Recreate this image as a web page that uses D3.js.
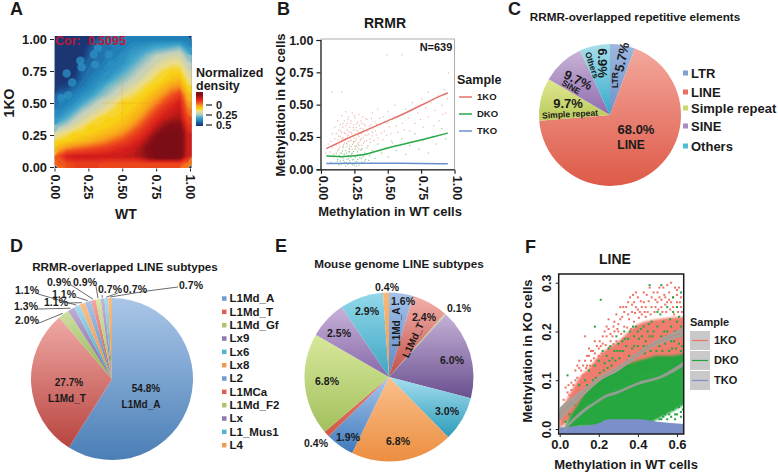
<!DOCTYPE html>
<html><head><meta charset="utf-8">
<script src="https://cdn.jsdelivr.net/npm/d3@7"></script>
<style>html,body{margin:0;padding:0;background:#fff}svg{display:block}text{font-family:"Liberation Sans",Arial,sans-serif;font-weight:700;fill:#1a1a1a}</style>
</head><body><svg id="c" width="778" height="472"></svg>
<script>
// ---------- Panel A data: normalized density levels, rows top (KO=1) to bottom (KO=0), columns WT=0..1
const densityGrid = [
[0,0,0,0,.2,1.2,1.5,1.5,1.5,1.5,1.5,1.5,1.5,1.5,1.5,1.5,1.5],
[0,0,0,0,.8,1.3,1.2,1.5,1.5,1.8,2,2.2,2.5,2.6,2.8,3,2],
[0,0,0,.2,1,1.2,1.4,1.5,1.8,2.2,2.5,3,3.4,3.6,3.8,3.8,3],
[0,0,0,.9,1.2,1.3,1.6,1.8,2,2.5,3,3.4,3.8,4.2,4.5,4.5,3.5],
[0,0,.1,1.1,1.3,1.5,1.8,2,2.5,3,3.4,3.8,4.4,4.8,5,5,4],
[0,0,.4,1.2,1.5,1.8,2,2.6,3,3.4,3.8,4.4,4.8,5,5.3,5.5,4.5],
[.3,.5,1.1,1.4,1.7,2.2,2.8,3.2,3.5,4,4.5,4.9,5.1,5.5,6,6.2,5],
[1.1,1.2,1.5,1.8,2.2,2.8,3.2,3.6,4.2,4.6,4.9,5.2,5.6,6.1,6.8,7.3,5.5],
[1.4,1.5,1.8,2.4,3,3.5,3.9,4.4,5,5,5.2,5.6,6.2,6.9,7.5,8,6],
[1.6,1.9,2.5,3.2,3.6,4,4.5,4.9,5,5.2,5.5,6.1,6.9,7.6,8,8.3,6.5],
[2,2.6,3.3,3.8,4.3,4.8,5,5,5.2,5.5,6,6.8,7.6,8.1,8.4,8.6,7],
[3,3.4,4,4.6,5,5,5.1,5.3,5.5,6,6.7,7.5,8.1,8.8,9.4,9.4,7.5],
[4.2,4.6,5,5,5.1,5.3,5.5,5.8,6.2,6.8,7.4,8,8.9,9.8,10,9.9,8],
[5,5.1,5.3,5.5,5.7,6,6.3,6.7,7.1,7.6,8,8.7,9.8,10,10,10,8],
[5.8,6.3,6.6,6.8,7,7.2,7.4,7.7,7.9,8.1,8.5,9.4,10,10,10,10,8],
[7,8,8.2,8.2,8.2,8.2,8.2,8.2,8.2,8.3,8.6,9.3,9.9,10,10,9.9,8],
[6.8,7,7.2,7.2,7.2,7.2,7,7,7,7,7,7,7,7,7,7,6.5]];
const densityLevels = [0,1,1.6,2.5,3.5,4.5,5,6,7,8,9,10];
const densityColors = ["#1c2f6e","#1d5f9e","#2286bd","#45a8cc","#c3d0bd","#ecdc88","#f8d516","#f8a01c","#ee4a1c","#d8201b","#8e1216","#7a1014"];
const densityBlobs = [[.09,.73],[.19,.83],[.2,.78],[.29,.88],[.32,.93],[.4,.88],[.3,.8],[.13,.66],[.42,.8],[.5,.86],[.05,.54],[.1,.56]];
const corLabel = "Cor:\u00a0\u00a00.5095";
const ticksA = [0,.25,.5,.75,1];
// ---------- Panel B data
const bX1 = [.04,.1,.2,.3,.4,.5,.6,.7,.8,.9,.95], bY1 = [.16,.19,.24,.285,.33,.375,.42,.47,.52,.57,.59];
const bX2 = [.04,.1,.15,.2,.3,.35,.4,.5,.6,.7,.8,.95], bY2 = [.105,.1,.098,.1,.11,.12,.135,.165,.19,.215,.24,.28];
const bX3 = [.04,.3,.6,.95], bY3 = [.045,.047,.047,.043];
const bPts1 = [[.03,.13],[.05,.2],[.06,.14],[.07,.22],[.08,.17],[.08,.28],[.09,.12],[.1,.24],[.1,.33],[.11,.19],[.11,.28],[.12,.15],[.12,.23],[.12,.38],[.13,.31],[.13,.2],[.14,.26],[.14,.13],[.14,.35],[.15,.22],[.15,.29],[.15,.42],[.16,.17],[.16,.25],[.16,.33],[.17,.21],[.17,.38],[.17,.12],[.18,.28],[.18,.24],[.18,.45],[.19,.18],[.19,.31],[.19,.36],[.2,.22],[.2,.27],[.2,.41],[.2,.14],[.21,.25],[.21,.33],[.21,.19],[.22,.29],[.22,.38],[.22,.23],[.23,.16],[.23,.26],[.23,.44],[.24,.31],[.24,.21],[.24,.35],[.25,.28],[.25,.18],[.25,.4],[.26,.24],[.26,.33],[.27,.3],[.27,.2],[.27,.37],[.28,.26],[.28,.16],[.28,.43],[.29,.32],[.29,.23],[.3,.28],[.3,.36],[.3,.19],[.31,.25],[.31,.41],[.32,.3],[.32,.22],[.33,.34],[.34,.27],[.34,.39],[.35,.31],[.36,.24],[.37,.35],[.38,.29],[.38,.44],[.4,.37],[.41,.27],[.42,.47],[.44,.35],[.46,.41],[.47,.3],[.49,.36],[.5,.45],[.52,.28],[.53,.39],[.55,.5],[.56,.34],[.58,.42],[.6,.89],[.62,.31],[.63,.47],[.65,.4],[.68,.52],[.7,.36],[.72,.44],[.75,.55],[.76,.33],[.78,.48],[.8,.41],[.8,.6],[.82,.52],[.85,.46],[.87,.57],[.88,.38],[.9,.5],[.92,.62],[.93,.44],[.94,.55],[.49,.89],[.15,.6],[.08,.6],[.95,.75],
[.113,.205],[.127,.262],[.136,.177],[.142,.301],[.153,.241],[.158,.357],[.164,.193],[.171,.284],[.176,.232],[.183,.342],[.187,.206],[.193,.263],[.197,.392],[.204,.296],[.208,.158],[.214,.224],[.219,.361],[.226,.277],[.231,.198],[.236,.327],[.241,.248],[.246,.419],[.253,.222],[.257,.307],[.263,.356],[.268,.174],[.273,.269],[.278,.213],[.284,.344],[.289,.289],[.294,.378],[.298,.239],[.304,.167],[.308,.315],[.314,.208],[.319,.352],[.326,.268],[.331,.396],[.337,.226],[.342,.301],[.347,.186],[.354,.278],[.359,.337],[.366,.212],[.372,.398],[.379,.263],[.385,.322],[.393,.227],[.402,.302],[.411,.352],[.423,.247],[.434,.398],[.447,.286],[.459,.232],[.472,.372],[.488,.268],[.506,.332],[.524,.226],[.545,.41],[.57,.29],[.605,.36],[.66,.3],[.74,.39],[.84,.34],[.91,.43]];
const bPts2 = [[.07,.06],[.09,.1],[.1,.05],[.11,.13],[.12,.08],[.13,.04],[.13,.16],[.14,.1],[.14,.07],[.15,.13],[.15,.05],[.16,.09],[.16,.18],[.17,.06],[.17,.12],[.18,.03],[.18,.15],[.19,.08],[.19,.2],[.2,.11],[.2,.05],[.21,.14],[.21,.07],[.22,.18],[.22,.1],[.23,.04],[.23,.13],[.24,.08],[.24,.22],[.25,.16],[.25,.06],[.26,.11],[.26,.03],[.27,.14],[.27,.08],[.28,.19],[.28,.05],[.29,.12],[.3,.09],[.3,.16],[.31,.05],[.32,.13],[.33,.08],[.34,.17],[.36,.11],[.38,.15],[.4,.09],[.42,.2],[.45,.13],[.48,.17],[.5,.1],[.53,.21],[.56,.15],[.6,.24],[.63,.12],[.66,.19],[.7,.28],[.73,.16],[.76,.23],[.8,.13],[.83,.26],[.86,.2],[.9,.32],[.93,.24],
[.118,.067],[.132,.112],[.144,.046],[.156,.147],[.163,.074],[.174,.103],[.182,.057],[.187,.128],[.196,.042],[.203,.088],[.207,.167],[.216,.056],[.224,.122],[.232,.078],[.238,.143],[.244,.038],[.252,.097],[.258,.184],[.264,.064],[.272,.118],[.279,.036],[.286,.094],[.293,.153],[.302,.061],[.311,.107],[.322,.068],[.334,.128],[.352,.074],[.37,.133]];
const ticksB = [0,.25,.5,.75,1];
const sampleNames = ["1KO","DKO","TKO"];
// ---------- Panel C data
const cNames = ["LTR","LINE","Simple repeat","SINE","Others"];
const cValues = [5.7,68,9.7,9.7,6.9];
// ---------- Panel D data
const dNames = ["L1Md_A","L1Md_T","L1Md_Gf","Lx9","Lx6","Lx8","L2","L1MCa","L1Md_F2","Lx","L1_Mus1","L4"];
const dValues = [54.8,27.7,2.0,1.3,1.1,1.1,1.1,0.9,0.9,0.7,0.7,0.7];
// ---------- Panel E data
const eValues = [1.6,2.4,0.1,6.0,3.0,6.8,1.9,0.4,6.8,2.5,2.9,0.4];
// ---------- Panel F data
const fCoreX1 = [0,.05,.1,.15,.2,.3,.4,.5,.64], fCoreLo1 = [0,.02,.035,.055,.07,.09,.11,.12,.12], fCoreHi1 = [.035,.07,.105,.125,.15,.18,.215,.225,.23];
const fCoreX2 = [.03,.06,.1,.15,.2,.3,.4,.45,.5,.55,.64], fCoreLo2 = [0,0,.005,.005,.005,.005,.008,.012,.02,.03,.05], fCoreHi2 = [.008,.03,.055,.085,.1,.125,.14,.145,.15,.15,.155];
const fCoreX3 = [0,.1,.2,.25,.4,.5,.64], fCoreHi3 = [.003,.006,.012,.02,.02,.015,.01];
const fLineX1 = [0,.05,.1,.153,.2,.3,.4,.467,.55,.64], fLineY1 = [.03,.05,.068,.086,.102,.124,.153,.171,.186,.2], fLineW1 = [.014,.011,.008,.006,.005,.005,.005,.005,.006,.01];
const fLineX2 = [.025,.058,.128,.18,.23,.3,.4,.52,.58,.64], fLineY2 = [0,.014,.039,.053,.066,.076,.093,.107,.12,.135], fLineW2 = [.005,.004,.004,.003,.003,.003,.003,.003,.004,.005];
const fPts1 = [[.01,.04],[.02,.06],[.03,.05],[.04,.075],[.05,.07],[.06,.08],[.07,.09],[.07,.065],[.08,.12],[.09,.13],[.09,.105],[.1,.14],[.11,.12],[.12,.11],[.13,.14],[.13,.19],[.14,.13],[.15,.15],[.16,.14],[.17,.16],[.18,.18],[.19,.17],[.2,.15],[.19,.14],[.21,.17],[.22,.19],[.23,.2],[.24,.21],[.25,.205],[.26,.18],[.27,.19],[.28,.22],[.29,.18],[.3,.2],[.31,.25],[.32,.23],[.33,.21],[.34,.25],[.35,.26],[.36,.27],[.37,.24],[.38,.26],[.38,.22],[.39,.25],[.4,.27],[.41,.24],[.42,.25],[.43,.26],[.44,.23],[.45,.24],[.46,.29],[.47,.27],[.48,.28],[.49,.25],[.5,.26],[.5,.28],[.51,.27],[.52,.25],[.53,.29],[.54,.27],[.55,.26],[.55,.295],[.56,.28],[.57,.3],[.58,.27],[.59,.29],[.6,.26],[.6,.285],[.61,.29],[.62,.27],[.62,.25],[.35,.235],[.33,.24],[.37,.255],[.4,.245],[.42,.235],[.44,.25],[.47,.25],[.49,.265],[.52,.265],[.54,.255],[.57,.26],[.58,.25],[.6,.275],[.3,.215],[.28,.2],[.26,.195],[.24,.19],[.22,.175],[.2,.165],[.18,.155],[.16,.16],[.14,.15],[.12,.13],[.1,.125],[.08,.1],[.06,.095],[.045,.09],[.03,.085],[.11,.095],[.15,.165],[.17,.13],[.25,.225],[.29,.235],[.31,.225],[.39,.28],[.43,.28],[.51,.29],[.56,.265],
[.215,.155],[.235,.172],[.255,.168],[.275,.174],[.295,.205],[.315,.195],[.325,.185],[.345,.208],[.355,.225],[.365,.205],[.385,.238],[.405,.228],[.415,.262],[.435,.24],[.455,.262],[.465,.235],[.485,.24],[.505,.245],[.525,.24],[.545,.24],[.565,.245],[.585,.235],[.605,.24],[.625,.24],[.615,.26],[.535,.275],[.445,.275],[.375,.275],[.325,.25],[.275,.21],[.205,.18],[.175,.145],[.135,.125],[.095,.08],[.125,.095],[.155,.13]];
const fPts2 = [[.04,.11],[.21,.265],[.18,.21],[.15,.12],[.46,.295],[.52,.295],[.58,.27],[.62,.28],[.6,.25],[.61,.23],[.58,.24],[.55,.25],[.5,.24],[.47,.22],[.45,.2],[.43,.21],[.4,.2],[.38,.19],[.35,.185],[.33,.2],[.3,.175],[.28,.16],[.26,.17],[.24,.15],[.22,.16],[.2,.14],[.18,.13],[.17,.1],[.13,.1],[.1,.09],[.62,.21],[.62,.19],[.6,.22],[.59,.2],[.57,.21],[.57,.18],[.55,.2],[.54,.175],[.53,.22],[.52,.19],[.5,.18],[.5,.21],[.48,.2],[.47,.17],[.46,.19],[.44,.18],[.43,.17],[.42,.19],[.4,.17],[.39,.21],[.37,.165],[.36,.2],[.34,.17],[.32,.18],[.31,.16],[.29,.19],[.27,.145],[.25,.165],[.23,.135],[.48,.015],[.5,.012],[.52,.02],[.53,.025],[.55,.02],[.56,.03],[.57,.025],[.58,.04],[.59,.03],[.6,.03],[.61,.045],[.62,.035],[.63,.04],[.47,.02],[.51,.02],[.54,.03],[.59,.02],[.62,.025],[.05,.03],[.03,.015],[.08,.06],[.62,.16],[.63,.15],
[.61,.175],[.595,.165],[.575,.165],[.56,.16],[.545,.19],[.525,.16],[.51,.17],[.495,.16],[.485,.175],[.465,.16],[.45,.17],[.435,.155],[.415,.16],[.405,.185],[.395,.15],[.38,.17],[.355,.15],[.345,.14],[.325,.16],[.305,.145],[.285,.14],[.265,.13],[.245,.125],[.225,.12],[.205,.115],[.185,.105],[.165,.09],[.14,.09],[.12,.075],[.09,.065],[.075,.05],[.535,.2],[.565,.225],[.585,.18],[.605,.2],[.625,.17],[.515,.235],[.475,.19],[.455,.215],[.415,.205],[.375,.21],[.335,.185],[.295,.16],[.255,.14]];
// Fixed colours / layout
const svg = d3.select("#c");
const defs = svg.append("defs");
function txt(g,s,x,y,size,rot,anchor,fill){
  const t=g.append("text").attr("x",x).attr("y",y).attr("font-size",size).attr("dy",".35em").attr("text-anchor",anchor||"middle").text(s);
  if(rot) t.attr("transform",`rotate(${rot} ${x} ${y})`);
  if(fill) t.style("fill",fill);
  return t;
}
[["A",10,15],["B",277,15],["C",508,15],["D",10,252],["E",275,252],["F",525,253]].forEach(d=>
  svg.append("text").attr("x",d[1]).attr("y",d[2]).attr("font-size",18).text(d[0]));
function styleAxis(a,size,w){a.selectAll("text").attr("font-size",size).style("font-family",'"Liberation Sans"').style("font-weight",700).style("fill","#1a1a1a");
  a.selectAll("line").attr("stroke","#222").attr("stroke-width",w||1);a.select(".domain").attr("stroke","#222").attr("stroke-width",w||1);}

// ===== Panel A =====
(function(){
  const x=d3.scaleLinear([0,1],[54.5,190]), y=d3.scaleLinear([0,1],[167,39]);
  const x0=54.5,x1=191.7,y0=36,y1=168;
  const color=d3.scaleLinear(densityLevels,densityColors).clamp(true);
  const n=densityGrid[0].length,m=densityGrid.length;
  defs.append("clipPath").attr("id","clipA").append("rect").attr("x",x0).attr("y",y0).attr("width",x1-x0).attr("height",y1-y0);
  defs.append("filter").attr("id","blurA").attr("x","-30%").attr("y","-30%").attr("width","160%").attr("height","160%").append("feGaussianBlur").attr("stdDeviation",.6);
  const g=svg.append("g").attr("clip-path","url(#clipA)");
  g.append("rect").attr("x",x0).attr("y",y0).attr("width",x1-x0).attr("height",y1-y0).attr("fill",color(0));
  const thr=d3.range(0,10.01,.2);
  const cs=d3.contours().size([n,m]).thresholds(thr)(densityGrid.flat());
  const tr=d3.geoTransform({point(a,b){this.stream.point(x0+a/n*(x1-x0),y0+b/m*(y1-y0));}});
  const path=d3.geoPath(tr);
  const inner=g.append("g").attr("filter","url(#blurA)");
  inner.selectAll("path").data(cs).join("path").attr("d",path).attr("fill",d=>color(d.value+.1));
  inner.selectAll("circle").data(densityBlobs).join("circle").attr("cx",d=>x(d[0])).attr("cy",d=>y(d[1])).attr("r",4.2).attr("fill","#2c8fc0").attr("opacity",.8);
  g.append("line").attr("x1",x(.5)).attr("x2",x(.5)).attr("y1",y(.72)).attr("y2",y(.24)).attr("stroke","#f39a1e").attr("stroke-width",1).attr("opacity",.3);
  g.append("line").attr("x1",x(.35)).attr("x2",x(.8)).attr("y1",y(.5)).attr("y2",y(.5)).attr("stroke","#f39a1e").attr("stroke-width",1).attr("opacity",.3);
  txt(svg,corLabel,55,41,12.5,0,"start","#b81a38");
  const ax=svg.append("g").attr("transform","translate(0,168.5)").call(d3.axisBottom(x).tickValues(ticksA).tickFormat(d3.format(".2f")).tickSize(3));
  ax.select(".domain").remove(); styleAxis(ax,12.8);
  ax.selectAll("text").attr("transform","rotate(90)").attr("text-anchor","start").attr("x",6).attr("y",0).attr("dy",".35em");
  const ay=svg.append("g").attr("transform","translate(54,0)").call(d3.axisLeft(y).tickValues(ticksA).tickFormat(d3.format(".2f")).tickSize(4));
  ay.select(".domain").remove(); styleAxis(ay,12.8);
  txt(svg,"1KO",9,103,14,-90);
  txt(svg,"WT",126,214,14);
  txt(svg,"Normalized",196,73,12.5,0,"start");
  txt(svg,"density",196,86,12.5,0,"start");
  const grad=defs.append("linearGradient").attr("id","barA").attr("x1",0).attr("x2",0).attr("y1",1).attr("y2",0);
  densityLevels.forEach((l,i)=>grad.append("stop").attr("offset",l/10).attr("stop-color",densityColors[i]));
  svg.append("rect").attr("x",196).attr("y",92).attr("width",7).attr("height",34).attr("fill","url(#barA)");
  [["0",105],["0.25",115],["0.5",125]].forEach(d=>{
    svg.append("line").attr("x1",206).attr("x2",212).attr("y1",d[1]).attr("y2",d[1]).attr("stroke","#222").attr("stroke-width",1.2);
    txt(svg,d[0],216,d[1],11,0,"start");});
})();

// ===== Panel B =====
(function(){
  const x=d3.scaleLinear([0,1],[321,454.5]), y=d3.scaleLinear([0,1],[169.3,40]);
  svg.append("rect").attr("x",321).attr("y",39).attr("width",133.5).attr("height",130.5).attr("fill","none").attr("stroke","#999").attr("stroke-width",.8);
  const dots=(pts,c)=>svg.append("g").selectAll("rect").data(pts).join("rect").attr("x",d=>x(d[0])).attr("y",d=>y(d[1])).attr("width",1.2).attr("height",1.2).attr("fill",c);
  dots(bPts1,"#efb4ac"); dots(bPts2,"#8ecd9c");
  const ln=(X,Y,c)=>svg.append("path").attr("d",d3.line().x((d,i)=>x(X[i])).y((d,i)=>y(Y[i])).curve(d3.curveMonotoneX)(X)).attr("fill","none").attr("stroke",c).attr("stroke-width",1.5);
  ln(bX1,bY1,"#e0746a"); ln(bX2,bY2,"#2aa848"); ln(bX3,bY3,"#6a8fd0");
  const ax=svg.append("g").attr("transform","translate(0,169.8)").call(d3.axisBottom(x).tickValues(ticksB).tickFormat(d3.format(".2f")).tickSize(4));
  styleAxis(ax,12.5,1.2); ax.select(".domain").attr("d","M321,0H454.5");
  ax.selectAll("text").attr("transform","rotate(90)").attr("text-anchor","start").attr("x",6).attr("y",-2).attr("dy",".35em");
  const ay=svg.append("g").attr("transform","translate(320.5,0)").call(d3.axisLeft(y).tickValues(ticksB).tickFormat(d3.format(".2f")).tickSize(4));
  styleAxis(ay,12.5,1.2);
  txt(svg,"RRMR",385,23,14);
  txt(svg,"N=639",436,47,11);
  txt(svg,"Methylation in KO cells",280,105,13,-90);
  txt(svg,"Methylation in WT cells",390,211,13);
  txt(svg,"Sample",457,80,12.5,0,"start");
  sampleNames.forEach((s,i)=>{const yy=97+i*17;
    svg.append("line").attr("x1",459).attr("x2",472).attr("y1",yy).attr("y2",yy).attr("stroke",["#e0746a","#2aa848","#6a8fd0"][i]).attr("stroke-width",1.5);
    txt(svg,s,477,yy,9.5,0,"start");});
})();

// ===== Pies =====
function pie(id,cx,cy,R,values,tops,bottoms){
  const arcs=d3.pie().sort(null)(values);
  const arc=d3.arc().innerRadius(0).outerRadius(R);
  const g=svg.append("g").attr("transform",`translate(${cx},${cy})`);
  arcs.forEach((a,i)=>{
    const gr=defs.append("linearGradient").attr("id",id+i).attr("x1",0).attr("x2",0).attr("y1",0).attr("y2",1);
    gr.append("stop").attr("offset",0).attr("stop-color",tops[i]);
    gr.append("stop").attr("offset",1).attr("stop-color",bottoms[i]);
  });
  g.selectAll("path").data(arcs).join("path").attr("d",arc).attr("fill",(d,i)=>`url(#${id}${i})`);
  return arcs;
}
// Panel C
(function(){
  pie("c",610,115,71,cValues,["#9db8df","#f3a79c","#e0e88e","#c9b4d6","#a8dfec"],["#6f92c8","#de5a48","#b9c95c","#8f6cb0","#2fa9c9"]);
  const T=(s,x,y,f,r)=>txt(svg,s,x,y,f,r);
  T("LTR",615,80,8.5,-90);T("5.7%",622,57,13,-78);T("Others",592,65,8.5,72);T("6.9%",603,63,13,90);
  T("9.7%",578,80,13,25);T("SINE",571,87,8.5,30);T("9.7%",568,103,13,0);T("Simple repeat",570,114,8.5,-3);
  T("68.0%",636,129,13,0);T("LINE",631,145,12,0);
  txt(svg,"RRMR-overlapped repetitive elements",635,17,11.7);
  const ys=[73,92,108,126,146], sw=["#7fa0d4","#ea6f60","#cad96f","#a98cc4","#4fbcd8"];
  cNames.forEach((n,i)=>{svg.append("rect").attr("x",683).attr("y",ys[i]-2.5).attr("width",5).attr("height",5).attr("fill",sw[i]);
    txt(svg,n,691,ys[i],13,0,"start");});
})();
// Panel D
(function(){
  const tops=["#aac6e8","#efa9a5","#cfe0a0","#bfaed6","#a6dcec","#f9c090","#a8c4e8","#f2a6a2","#d6e6a8","#c6b4da","#a6dcec","#f8bc84"];
  const bots=["#4a7fb6","#b8443f","#92b254","#7a5f9e","#3aa0bc","#ec8a3a","#4f85c0","#c85048","#9cbc58","#8568a8","#41a8c4","#ee9040"];
  const R=81,cx=112,cy=379;
  const arcs=pie("d",cx,cy,R,dValues,tops,bots);
  const anc=d3.arc().innerRadius(R+1).outerRadius(R+1);
  const lay=[null,null,[27,320,39,323],[26,306,38,309],[27,290,38,294],[56,302,68,303],[64,294,76,297],[59,282,71,285],[85,282,96,286],[110,289,102,295],[135,289,118,293],[191,285,178,287]];
  lay.forEach((l,i)=>{ if(!l) return;
    const c=anc.centroid(arcs[i]);
    svg.append("path").attr("d",d3.line()(i===11?[[l[2],l[3]],[147,291],[cx+c[0],cy+c[1]]]:[[l[2],l[3]],[cx+c[0],cy+c[1]]])).attr("fill","none").attr("stroke","#444").attr("stroke-width",.8);
    txt(svg,dValues[i].toFixed(1)+"%",l[0],l[1],10.5);
  });
  txt(svg,"27.7%",69,382,10);txt(svg,"L1Md_T",67,398,10);txt(svg,"54.8%",146,388,10);txt(svg,"L1Md_A",141,404,10);
  txt(svg,"RRMR-overlapped LINE subtypes",125,267,11.7);
  const sw=["#6f9bd2","#d9605a","#a9c46c","#9078b4","#52b4d0","#f09a50","#6f9bd2","#d9605a","#a9c46c","#9078b4","#52b4d0","#f09a50"];
  dNames.forEach((n,i)=>{const yy=298.3+i*13.33;
    svg.append("rect").attr("x",222).attr("y",yy-2).attr("width",4.5).attr("height",4.5).attr("fill",sw[i]);
    txt(svg,n,229.5,yy,11.5,0,"start");});
})();
// Panel E
(function(){
  const tops=["#a6c2ea","#f2b0aa","#ccd3a0","#c4b0d6","#a6def0","#fac08c","#a8c6ee","#e87a6a","#d8e89c","#c8b2d8","#92d8ea","#f8b878"];
  const bots=["#5a88c4","#c0504a","#a0ac70","#6a5090","#2c9cb8","#ec8e40","#3f7abc","#d05a46","#a2c05c","#8668aa","#3ea6c2","#f09a4c"];
  pie("e",389,377,84.5,eValues,tops,bots);
  const L=[[1.6,403,301],[2.4,424,317],[0.1,459,308],[6.0,452,360],[3.0,447,411],[6.8,398,441],[1.9,348,437],[0.4,316,443],[6.8,327,381],[2.5,339,333],[2.9,367,311],[0.4,387,287]];
  L.forEach(d=>txt(svg,d[0].toFixed(1)+"%",d[1],d[2],10.5));
  txt(svg,"L1Md_A",396,327,10,-90);txt(svg,"L1Md_T",413,340,10,-65);
  txt(svg,"Mouse genome LINE subtypes",399,264,11.7);
})();
// Panel F
(function(){
  const x=d3.scaleLinear([0,.6],[559.7,677]), y=d3.scaleLinear([0,.3],[429,282.7]);
  const ox=558.7,oy=274,W=125,H=160;
  defs.append("clipPath").attr("id","clipF").append("rect").attr("x",ox).attr("y",oy).attr("width",W).attr("height",H);
  defs.append("filter").attr("id","blurF").attr("x","-10%").attr("y","-10%").attr("width","120%").attr("height","120%").append("feGaussianBlur").attr("stdDeviation",1);
  const g=svg.append("g").attr("clip-path","url(#clipF)");
  const red="#ee7263",green="#20a63c",blue="#7b90ca";
  const band=(X,Lo,Hi,c,o)=>g.append("path").attr("d",d3.area().x((d,i)=>x(X[i])).y0((d,i)=>y(Lo[i])).y1((d,i)=>y(Hi[i])).curve(d3.curveMonotoneX)(X)).attr("fill",c).attr("opacity",o).attr("filter","url(#blurF)");
  band(fCoreX1,fCoreLo1,fCoreHi1,red,.92);
  band(fCoreX2,fCoreLo2,fCoreHi2,green,.98);
  const dots=(pts,c)=>g.append("g").selectAll("rect").data(pts).join("rect").attr("x",d=>x(d[0])-1).attr("y",d=>y(d[1])-1).attr("width",2).attr("height",2).attr("fill",c);
  dots(fPts1,red); dots(fPts2,green);
  g.append("path").attr("d",d3.area().x((d,i)=>x(fCoreX3[i])).y0(H+oy).y1((d,i)=>y(fCoreHi3[i])).curve(d3.curveMonotoneX)(fCoreX3)).attr("fill",blue);
  const rib=(X,Y,W2,c,lc)=>{
    g.append("path").attr("d",d3.area().x((d,i)=>x(X[i])).y0((d,i)=>y(Y[i]-W2[i])).y1((d,i)=>y(Y[i]+W2[i])).curve(d3.curveMonotoneX)(X)).attr("fill",c);
    g.append("path").attr("d",d3.line().x((d,i)=>x(X[i])).y((d,i)=>y(Y[i])).curve(d3.curveMonotoneX)(X)).attr("fill","none").attr("stroke",lc).attr("stroke-width",.7);
  };
  rib(fLineX1,fLineY1,fLineW1,"#a89f98","#b98678");
  rib(fLineX2,fLineY2,fLineW2,"#9a9c94","#7fa88a");
  svg.append("rect").attr("x",ox).attr("y",oy).attr("width",W).attr("height",H).attr("fill","none").attr("stroke","#1a1a1a").attr("stroke-width",1.5);
  const ax=svg.append("g").attr("transform",`translate(0,${oy+H})`).call(d3.axisBottom(x).tickValues([0,.2,.4,.6]).tickFormat(d3.format(".1f")).tickSize(3));
  ax.select(".domain").remove(); styleAxis(ax,13);
  const ay=svg.append("g").attr("transform",`translate(${ox},0)`).call(d3.axisLeft(y).tickValues([0,.1,.2,.3]).tickFormat(d3.format(".1f")).tickSize(3));
  ay.select(".domain").remove(); styleAxis(ay,12.5);
  ay.selectAll("text").attr("x",0).attr("y",0).attr("dy",".35em").attr("text-anchor","middle").attr("transform","translate(-12,0) rotate(-90)");
  txt(svg,"LINE",615,259,14);
  txt(svg,"Methylation in KO cells",527,351,13,-90);
  txt(svg,"Methylation in WT cells",626,464,13);
  txt(svg,"Sample",690,322,11,0,"start");
  sampleNames.forEach((s,i)=>{const yy=331+i*20;
    svg.append("rect").attr("x",690).attr("y",yy).attr("width",20).attr("height",19).attr("fill","#c9c9c9");
    svg.append("line").attr("x1",692).attr("x2",708).attr("y1",yy+9.5).attr("y2",yy+9.5).attr("stroke",[red,green,blue][i]).attr("stroke-width",1.2);
    txt(svg,s,714,yy+9.5,11,0,"start");});
})();
</script></body></html>
